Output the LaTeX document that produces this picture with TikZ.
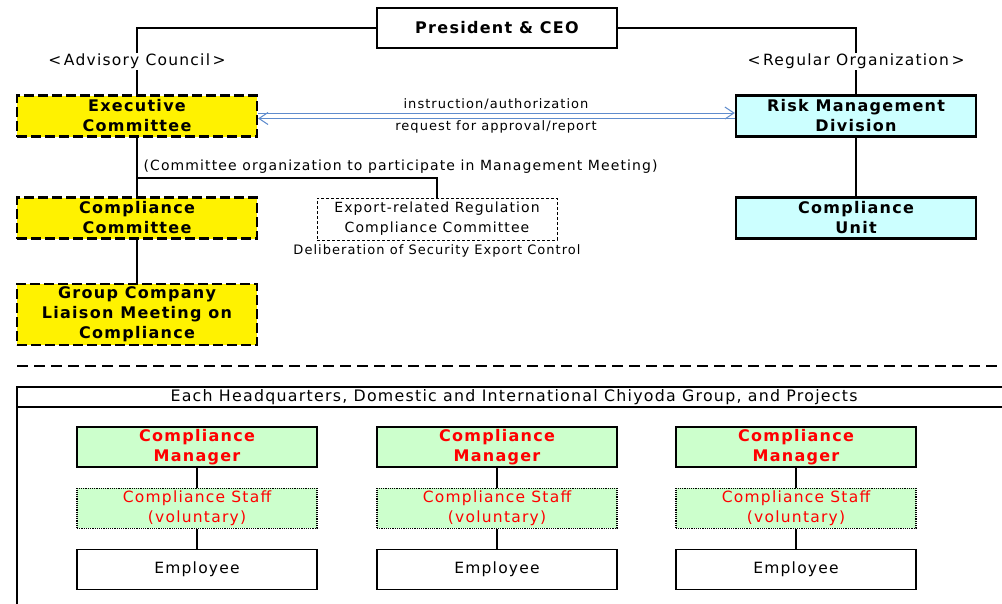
\documentclass[tikz,border=0pt]{standalone}
\usepackage{fontspec}
\setmainfont{DejaVu Sans}[LetterSpace=8]
\usetikzlibrary{positioning,arrows.meta}
\definecolor{cyanbox}{RGB}{204,255,255}
\definecolor{greenbox}{RGB}{204,255,204}
\definecolor{linkblue}{RGB}{95,140,205}

\begin{document}
\begin{tikzpicture}[
  x=1pt, y=-1pt,
  >={Straight Barb[length=9pt,width=12pt]},
  node distance=20pt,
  every node/.style={font=\fontsize{14}{20}\selectfont},
  unitbox/.style={draw, line width=1.2pt, minimum width=240pt, minimum height=41pt, inner sep=0pt, align=center, font=\fontsize{16}{20}\selectfont\bfseries},
  councilbox/.style={unitbox, fill=yellow, line width=2.2pt, dash pattern=on 10pt off 4pt},
  regularbox/.style={unitbox, fill=cyanbox, line width=2.4pt},
  managerbox/.style={unitbox, minimum height=40pt, fill=greenbox, text=red},
  staffbox/.style={unitbox, minimum height=40pt, fill=greenbox, text=red, densely dotted, font=\fontsize{15.5}{20}\selectfont},
  employeebox/.style={unitbox, minimum height=40pt, fill=white, font=\fontsize{15.5}{20}\selectfont},
  tag/.style={font=\fontsize{13}{14}\selectfont},
  link/.style={line width=1.2pt}
]
\useasboundingbox (0,0) rectangle (1002,603);

% top: president, advisory council and regular organization
\node[unitbox, minimum height=40pt] (ceo) at (497,28) {President \& CEO};
\node[councilbox] (exec) at (137,116) {Executive\\Committee};
\node[regularbox] (risk) at (856,116) {Risk Management\\Division};
\node[councilbox] (ccomm) at (137,218) {Compliance\\Committee};
\node[councilbox, minimum height=61pt] (liaison) at (137,314.5) {Group Company\\Liaison Meeting on\\Compliance};
\node[draw, dash pattern=on 3pt off 2pt, line width=0.8pt, minimum width=240pt, minimum height=42pt, inner sep=0pt, align=center] (export) at (437,219) {Export-related Regulation\\Compliance Committee};
\node[tag, below=1pt of export] (delib) {Deliberation of Security Export Control};
\node[regularbox] (cunit) at (856,218) {Compliance\\Unit};

\draw[link] (ceo.west) -| (exec.north);
\draw[link] (ceo.east) -| (risk.north);
\draw[link] (exec.south) -- (ccomm.north);
\draw[link] (ccomm.south) -- (liaison.north);
\draw[link] (risk) -- (cunit);
\coordinate (fork) at (137,178);
\draw[link] (fork) -| (export.north);

\node[fill=white, inner sep=1pt, font=\fontsize{15.5}{20}\selectfont] (adv) at (137,61) {<\,Advisory Council\,>};
\node[fill=white, inner sep=1pt, font=\fontsize{15.5}{20}\selectfont] (reg) at (856,61) {<\,Regular Organization\,>};
\node[anchor=west] (mtg) at (140,167) {(Committee organization to participate in Management Meeting)};

\draw[linkblue, line width=1pt, ->] ([yshift=3pt]exec.east) -- ([yshift=3pt]risk.west);
\draw[linkblue, line width=1pt, ->] ([yshift=-2.5pt]risk.west) -- ([yshift=-2.5pt]exec.east);
\node[tag] (instr) at (496,104) {instruction/authorization};
\node[tag] (req) at (496,127) {request for approval/report};

% separator
\coordinate (sepL) at (17,366);
\coordinate (sepR) at (1002,366);
\draw[line width=2pt, dash pattern=on 11pt off 6pt] (sepL) -- (sepR);

% bottom: headquarters, group and projects
\begin{scope}
\clip (0,0) rectangle (1002,603);
\draw[link] (17,387) rectangle (1012,620);
\draw[link] (17,407) -- (1012,407);
\end{scope}
\node[font=\fontsize{15.8}{20}\selectfont] (hq) at (514,397) {Each Headquarters, Domestic and International Chiyoda Group, and Projects};

\node[managerbox] (mgrA) at (197,447) {Compliance\\Manager};
\node[staffbox, below=of mgrA] (stfA) {Compliance Staff\\(voluntary)};
\node[employeebox, below=of stfA] (empA) {Employee};
\node[managerbox] (mgrB) at (497,447) {Compliance\\Manager};
\node[staffbox, below=of mgrB] (stfB) {Compliance Staff\\(voluntary)};
\node[employeebox, below=of stfB] (empB) {Employee};
\node[managerbox] (mgrC) at (796,447) {Compliance\\Manager};
\node[staffbox, below=of mgrC] (stfC) {Compliance Staff\\(voluntary)};
\node[employeebox, below=of stfC] (empC) {Employee};

\draw[link] (mgrA) -- (stfA);
\draw[link] (stfA) -- (empA);
\draw[link] (mgrB) -- (stfB);
\draw[link] (stfB) -- (empB);
\draw[link] (mgrC) -- (stfC);
\draw[link] (stfC) -- (empC);
\end{tikzpicture}
\end{document}
